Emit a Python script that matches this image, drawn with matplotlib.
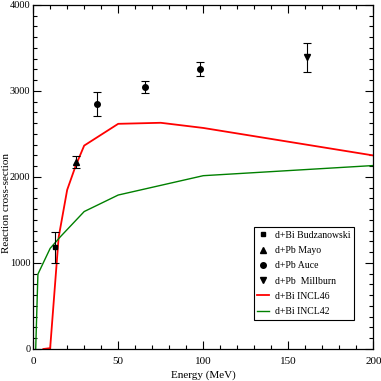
import matplotlib
matplotlib.use("Agg")
from matplotlib import pyplot as plt
from matplotlib.lines import Line2D
from matplotlib.ticker import MultipleLocator

plt.rcParams['font.family'] = ['Liberation Serif', 'DejaVu Serif']

###############################
### experimental data
budz_e = [12.6]
budz_xs = [1182]
budz_err = [180]

mayo_e = [25]
mayo_xs = [2170]
mayo_err = [70]

auce_e = [37.7, 65.6, 98]
auce_xs = [2849, 3050, 3252]
auce_err = [140, 70, 80]

mill_e = [160.7]
mill_xs = [3392]
mill_err = [170]

###############################
### model curves
incl46_e = [6, 10, 15, 20, 25, 30, 50, 75, 100, 200]
incl46_xs = [0, 10, 1300, 1850, 2130, 2365, 2618, 2630, 2570, 2250]

incl42_e = [1.5, 2.8, 10, 16, 30, 50, 100, 200]
incl42_xs = [0, 870, 1170, 1305, 1598, 1790, 2015, 2133]

fig = plt.figure(figsize=(3.81, 3.81), dpi=100)
ax = fig.add_axes([0.087, 0.084, 0.893, 0.903])

ax.plot(incl46_e, incl46_xs, color='red', lw=1.3, zorder=2)
ax.plot(incl42_e, incl42_xs, color='green', lw=1.0, zorder=2)

eb = dict(ls='none', color='black', ecolor='black', elinewidth=0.8,
          capsize=3, capthick=0.8, zorder=3)
ax.errorbar(budz_e, budz_xs, yerr=budz_err, marker='s', ms=3.5, **eb)
ax.errorbar(mayo_e, mayo_xs, yerr=mayo_err, marker='^', ms=4.5, **eb)
ax.errorbar(auce_e, auce_xs, yerr=auce_err, marker='o', ms=4, **eb)
ax.errorbar(mill_e, mill_xs, yerr=mill_err, marker='v', ms=4.5, **eb)

ax.set_xlim(0, 200)
ax.set_ylim(0, 4000)
ax.xaxis.set_major_locator(MultipleLocator(50))
ax.xaxis.set_minor_locator(MultipleLocator(10))
ax.yaxis.set_major_locator(MultipleLocator(1000))
ax.yaxis.set_minor_locator(MultipleLocator(125))
ax.tick_params(which='both', direction='in', top=True, right=True, width=0.8)
ax.tick_params(axis='x', labelsize=8, pad=6)
ax.tick_params(axis='y', labelsize=7.5, pad=2)
ax.tick_params(which='major', length=6)
ax.tick_params(which='minor', length=3)
for s in ax.spines.values():
    s.set_linewidth(0.9)

ax.set_xlabel("Energy (MeV)", fontsize=8, labelpad=3)
ax.set_ylabel("Reaction cross-section", fontsize=8)
ax.yaxis.set_label_coords(-0.066, 0.424)

# legend shows markers only (no error bars)
handles = [
    Line2D([], [], ls='none', marker='s', ms=3, color='black'),
    Line2D([], [], ls='none', marker='^', ms=4.5, color='black'),
    Line2D([], [], ls='none', marker='o', ms=4, color='black'),
    Line2D([], [], ls='none', marker='v', ms=4.5, color='black'),
    Line2D([], [], color='red', lw=1.3),
    Line2D([], [], color='green', lw=1.0),
]
labels = ['d+Bi Budzanowski', 'd+Pb Mayo', 'd+Pb Auce', 'd+Pb  Millburn',
          'd+Bi INCL46', 'd+Bi INCL42']
leg = ax.legend(handles, labels, loc='lower right', bbox_to_anchor=(0.944, 0.084),
                borderaxespad=0, fontsize=7, fancybox=False, edgecolor='black',
                framealpha=1, handlelength=1.2, handletextpad=0.6,
                borderpad=0.4, labelspacing=0.65)
leg.get_frame().set_linewidth(0.8)

fig.savefig("out.png", dpi=100)
